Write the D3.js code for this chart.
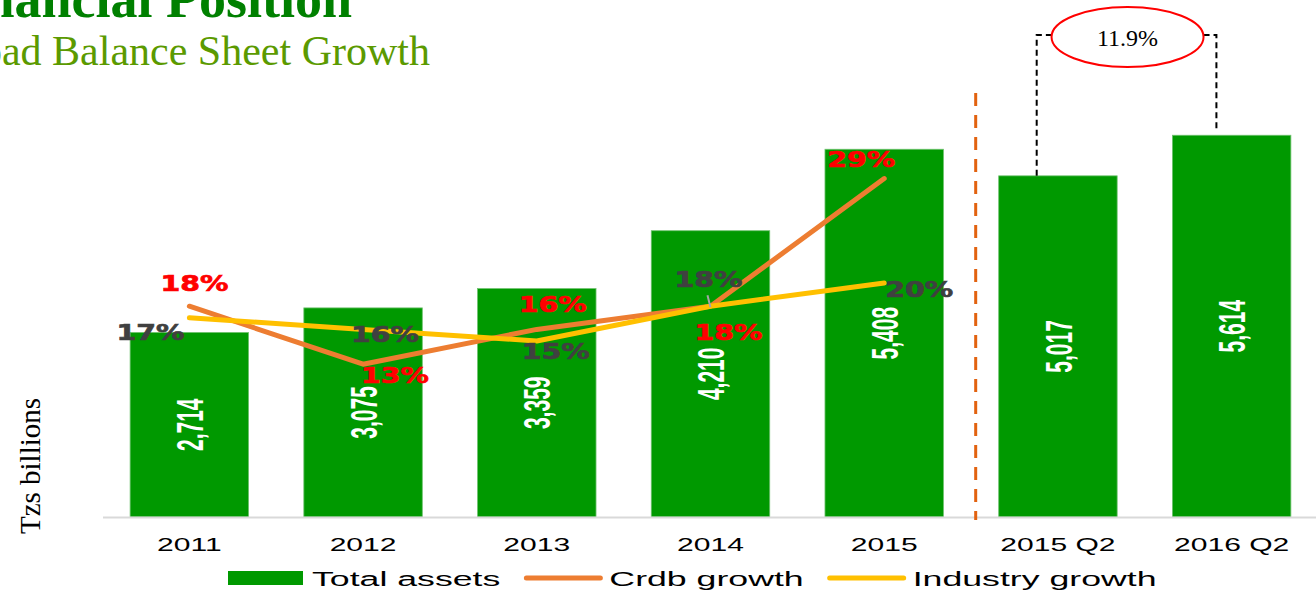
<!DOCTYPE html>
<html>
<head>
<meta charset="utf-8">
<script src="https://cdn.jsdelivr.net/npm/d3@7"></script>
<style>
  html, body { margin: 0; padding: 0; background: #fff; overflow: hidden; }
  svg { display: block; }
</style>
</head>
<body>
<div id="chart"></div>
<script>
// data
const categories = ["2011", "2012", "2013", "2014", "2015", "2015 Q2", "2016 Q2"];
const totalAssets = [2714, 3075, 3359, 4210, 5408, 5017, 5614];
const growthYears = ["2011", "2012", "2013", "2014", "2015"];
const crdbGrowth = [0.18, 0.13, 0.16, 0.18, 0.29];
const industryGrowth = [0.17, 0.16, 0.15, 0.18, 0.20];
const halfYearGrowth = "11.9%";
const seriesNames = ["Total assets", "Crdb growth", "Industry growth"];

// label nudges (dx to centre, dy to baseline) relative to each point
const crdbLabelOffsets = [[5, -15], [32, 19], [16, -17], [18, 34], [-23, -12]];
const industryLabelOffsets = [[-39, 22], [22, 13], [19, 18], [-2, -19], [35, 14]];

const W = 1316, H = 598;
const colors = {
    bar: "#009900",
    crdb: "#ED7D31",
    industry: "#FFC000",
    crdbText: "#FF0000",
    industryText: "#404040"
};

const svg = d3.select("#chart").append("svg")
    .attr("width", W)
    .attr("height", H);

// title block (partly cut off at the top/left like the slide)
svg.append("text")
    .attr("x", 352).attr("y", 17)
    .attr("text-anchor", "end")
    .style("font-family", "'Liberation Serif', 'Times New Roman', serif")
    .style("font-weight", "bold")
    .style("font-size", "54px")
    .style("fill", "#008000")
    .text("Financial Position");

svg.append("text")
    .attr("x", 430).attr("y", 65)
    .attr("text-anchor", "end")
    .style("font-family", "'Liberation Serif', 'Times New Roman', serif")
    .style("font-size", "42px")
    .style("fill", "#5B9A00")
    .text("Broad Balance Sheet Growth");

// scales
const x = d3.scaleBand()
    .domain(categories)
    .range([102.5, 1318.5])
    .paddingInner(0.318)
    .paddingOuter(0.159);

const y = d3.scaleLinear().domain([0, 6000]).range([517, 109]);
const yPct = d3.scaleLinear().domain([0, 0.35]).range([515, 109]);
const cx = c => x(c) + x.bandwidth() / 2;

// bars
svg.append("g").selectAll("rect")
    .data(categories)
    .join("rect")
    .attr("x", d => x(d))
    .attr("y", (d, i) => y(totalAssets[i]))
    .attr("width", x.bandwidth())
    .attr("height", (d, i) => y(0) - y(totalAssets[i]))
    .attr("fill", colors.bar)
    .attr("stroke", "#6fc26f")
    .attr("stroke-width", 0.8);

// x axis
const xAxis = svg.append("g")
    .attr("transform", `translate(0,${y(0)})`)
    .call(d3.axisBottom(x).tickSize(0).tickSizeOuter(0));
xAxis.select(".domain")
    .attr("stroke", "#D9D9D9")
    .attr("stroke-width", 2);
xAxis.selectAll(".tick text")
    .attr("y", 0).attr("dy", null)
    .attr("transform", "translate(0,34) scale(1.67,1)")
    .style("font-family", "'Liberation Sans', Arial, sans-serif")
    .style("font-size", "18px")
    .style("fill", "#000");

// separator between annual and half-year bars
const sepX = x("2015 Q2") - 23;
svg.append("line")
    .attr("x1", sepX).attr("x2", sepX)
    .attr("y1", 93).attr("y2", y(0) + 3)
    .attr("stroke", "#E2620F")
    .attr("stroke-width", 3)
    .attr("stroke-dasharray", "13,9");

// half-year growth bracket
const qa = totalAssets[categories.indexOf("2015 Q2")];
const qb = totalAssets[categories.indexOf("2016 Q2")];
const bx1 = x("2015 Q2") + 38;
const bx2 = x("2016 Q2") + 44;
const by = 35;
const ellCx = (bx1 + bx2) / 2 + 1;
svg.append("path")
    .attr("d", `M${bx1},${y(qa)}V${by}H${ellCx - 76}`)
    .attr("fill", "none").attr("stroke", "#000")
    .attr("stroke-width", 2).attr("stroke-dasharray", "6,4");
svg.append("path")
    .attr("d", `M${ellCx + 76},${by}H${bx2}V${y(qb) - 6}`)
    .attr("fill", "none").attr("stroke", "#000")
    .attr("stroke-width", 2).attr("stroke-dasharray", "6,4");
svg.append("ellipse")
    .attr("cx", ellCx).attr("cy", 37)
    .attr("rx", 76).attr("ry", 30)
    .attr("fill", "#fff")
    .attr("stroke", "#FF0000")
    .attr("stroke-width", 2);
svg.append("text")
    .attr("x", ellCx).attr("y", 46)
    .attr("text-anchor", "middle")
    .style("font-family", "'Liberation Serif', 'Times New Roman', serif")
    .style("font-size", "24px")
    .style("fill", "#000")
    .text(halfYearGrowth);

// bar value labels (rotated, white)
svg.append("g").selectAll("text")
    .data(categories)
    .join("text")
    .attr("transform", (d, i) => {
        const my = (y(totalAssets[i]) + y(0)) / 2;
        return `translate(${cx(d)},${my}) scale(1.8,1) rotate(-90)`;
    })
    .attr("text-anchor", "middle")
    .attr("dy", "0.36em")
    .style("font-family", "'Liberation Sans', Arial, sans-serif")
    .style("font-weight", "bold")
    .style("font-size", "21px")
    .style("fill", "#fff")
    .text((d, i) => d3.format(",")(totalAssets[i]));

// growth lines
const line = d3.line()
    .x(d => cx(d[0]))
    .y(d => yPct(d[1]));

svg.append("path")
    .datum(growthYears.map((c, i) => [c, crdbGrowth[i]]))
    .attr("d", line)
    .attr("fill", "none")
    .attr("stroke", colors.crdb)
    .attr("stroke-width", 5)
    .attr("stroke-linecap", "round")
    .attr("stroke-linejoin", "round");

svg.append("path")
    .datum(growthYears.map((c, i) => [c, industryGrowth[i]]))
    .attr("d", line)
    .attr("fill", "none")
    .attr("stroke", colors.industry)
    .attr("stroke-width", 5)
    .attr("stroke-linecap", "round")
    .attr("stroke-linejoin", "round");

// leader line for the 2014 industry label
const i2014 = growthYears.indexOf("2014");
svg.append("line")
    .attr("x1", cx("2014") - 3).attr("y1", yPct(industryGrowth[i2014]) - 11)
    .attr("x2", cx("2014")).attr("y2", yPct(industryGrowth[i2014]) + 1)
    .attr("stroke", "#A6A6A6")
    .attr("stroke-width", 2);

// percentage labels
function pctLabels(values, offsets, fill) {
    svg.append("g").selectAll("text")
        .data(growthYears)
        .join("text")
        .attr("transform", (d, i) =>
            `translate(${cx(d) + offsets[i][0]},${yPct(values[i]) + offsets[i][1]}) scale(1.29,1)`)
        .attr("text-anchor", "middle")
        .style("font-family", "'DejaVu Sans', Verdana, sans-serif")
        .style("font-weight", "bold")
        .style("font-size", "22px")
        .style("fill", fill)
        .style("stroke", fill)
        .style("stroke-width", 0.7)
        .text((d, i) => d3.format(".0%")(values[i]));
}
pctLabels(industryGrowth, industryLabelOffsets, colors.industryText);
pctLabels(crdbGrowth, crdbLabelOffsets, colors.crdbText);

// y axis title
svg.append("text")
    .attr("transform", "translate(40,466) rotate(-90)")
    .attr("text-anchor", "middle")
    .style("font-family", "'Liberation Serif', 'Times New Roman', serif")
    .style("font-size", "29px")
    .style("fill", "#000")
    .text("Tzs billions");

// legend, laid out left to right
const legend = svg.append("g");
const legendY = 578;
const legendSx = 1.7;
let lx = 228;
const legendItems = [
    { name: seriesNames[0], type: "rect", color: colors.bar },
    { name: seriesNames[1], type: "line", color: colors.crdb },
    { name: seriesNames[2], type: "line", color: colors.industry }
];
legendItems.forEach((item, i) => {
    if (item.type === "rect") {
        legend.append("rect")
            .attr("x", lx).attr("y", legendY - 7)
            .attr("width", 75).attr("height", 14)
            .attr("fill", item.color);
        lx += 75 + 9;
    } else {
        legend.append("line")
            .attr("x1", lx + 2).attr("x2", lx + 76)
            .attr("y1", legendY).attr("y2", legendY)
            .attr("stroke", item.color)
            .attr("stroke-width", 5)
            .attr("stroke-linecap", "round");
        lx += 78 + 7;
    }
    const t = legend.append("text")
        .attr("transform", `translate(${lx},${legendY + 8}) scale(${legendSx},1)`)
        .style("font-family", "'Liberation Sans', Arial, sans-serif")
        .style("font-size", "21px")
        .style("fill", "#000")
        .text(item.name);
    lx += t.node().getComputedTextLength() * legendSx + 24;
});
</script>
</body>
</html>
